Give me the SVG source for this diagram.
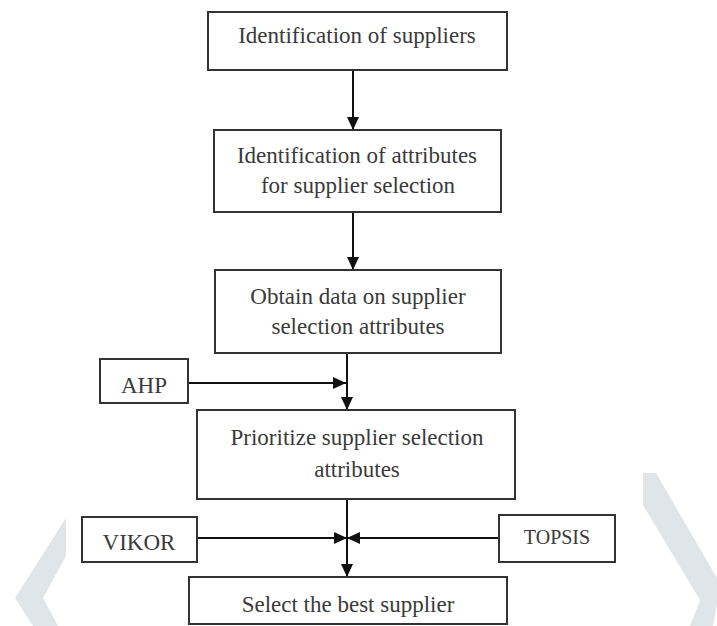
<svg xmlns="http://www.w3.org/2000/svg" width="717" height="626" viewBox="0 0 717 626">
<style>
.box{fill:#fff;stroke:#333;stroke-width:2}
.t{font-size:23px;fill:#3a3a3a;text-anchor:middle}
.c{stroke:#111;stroke-width:2;fill:none}
.wm{fill:#dfe5e8}
</style>
<defs>
<marker id="ah" markerUnits="userSpaceOnUse" markerWidth="14" markerHeight="12" refX="13" refY="6" orient="auto">
<path d="M0,0 L13,6 L0,12 z" fill="#111"/>
</marker>
</defs>
<rect width="717" height="626" fill="#fff"/>
<g id="watermark">
<polygon class="wm" points="66,518 66,556 43,598 58,626 33,626 15,598"/>
<polygon class="wm" points="643,473 656,473 717,578 717,604 713,626 690,626 700,600 643,505"/>
</g>
<g id="connectors">
<line class="c" x1="353" y1="70" x2="353" y2="130" marker-end="url(#ah)"/>
<line class="c" x1="353" y1="212" x2="353" y2="270" marker-end="url(#ah)"/>
<line class="c" x1="347" y1="353" x2="347" y2="410" marker-end="url(#ah)"/>
<line class="c" x1="188" y1="383" x2="346" y2="383" marker-end="url(#ah)"/>
<line class="c" x1="347" y1="499" x2="347" y2="577" marker-end="url(#ah)"/>
<line class="c" x1="197" y1="538" x2="347" y2="538" marker-end="url(#ah)"/>
<line class="c" x1="499" y1="538" x2="347" y2="538" marker-end="url(#ah)"/>
</g>
<g font-family="Liberation Serif, Times New Roman, serif">
<g id="n1">
<rect class="box" x="208" y="12" width="299" height="58"/>
<text class="t" x="357" y="43">Identification of suppliers</text>
</g>
<g id="n2">
<rect class="box" x="214" y="130" width="287" height="82"/>
<text class="t" x="357" y="163">Identification of attributes</text>
<text class="t" x="358" y="193">for supplier selection</text>
</g>
<g id="n3">
<rect class="box" x="215" y="270" width="286" height="83"/>
<text class="t" x="358" y="304">Obtain data on supplier</text>
<text class="t" x="358" y="334">selection attributes</text>
</g>
<g id="ahp">
<rect class="box" x="100" y="359" width="88" height="44"/>
<text class="t" x="144" y="393">AHP</text>
</g>
<g id="n4">
<rect class="box" x="197" y="410" width="318" height="89"/>
<text class="t" x="357" y="445">Prioritize supplier selection</text>
<text class="t" x="357" y="477">attributes</text>
</g>
<g id="vikor">
<rect class="box" x="82" y="517" width="115" height="45"/>
<text class="t" x="139" y="550">VIKOR</text>
</g>
<g id="topsis">
<rect class="box" x="499" y="515" width="116" height="47"/>
<text class="t" x="557" y="544" style="font-size:20px">TOPSIS</text>
</g>
<g id="n5">
<rect class="box" x="189" y="577" width="318" height="47"/>
<text class="t" x="348" y="612">Select the best supplier</text>
</g>
</g>
</svg>
